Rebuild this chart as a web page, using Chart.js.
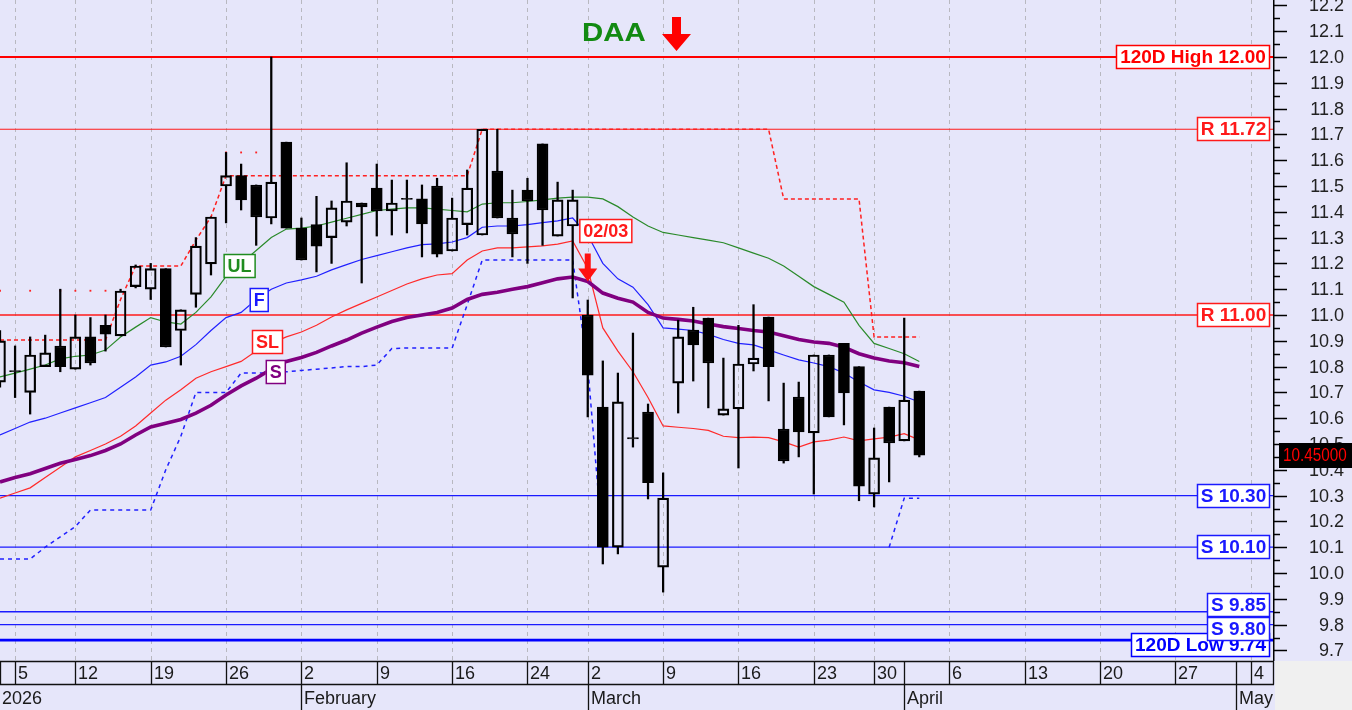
<!DOCTYPE html>
<html>
<head>
<meta charset="utf-8">
<script src="https://cdn.jsdelivr.net/npm/chart.js@4.4.1/dist/chart.umd.min.js"></script>
<style>
html,body{margin:0;padding:0;background:#e6e6fa;overflow:hidden;}
canvas{display:block;}
</style>
</head>
<body>
<canvas id="c" width="1352" height="710"></canvas>
<script>
// ---------------- DATA ----------------
const dayIdx = [-1,0,1,2,3,4,5,6,7,8,9,10,11,12,13,14,15,16,17,18,19,20,21,22,23,24,25,26,27,28,29,30,31,32,33,34,35,36,37,38,39,40,41,42,43,44,45,46,47,48,49,50,51,52,53,54,55,56,57,58,59,60];

const opens  = [10.74,10.785,10.70,10.80,10.88,10.79,10.915,10.96,10.919,11.11,11.10,11.18,10.94,11.08,11.198,11.50,11.54,11.504,11.376,11.67,11.337,11.35,11.30,11.36,11.434,11.492,11.403,11.452,11.45,11.50,11.248,11.35,11.31,11.558,11.376,11.484,11.663,11.306,11.345,11.00,10.643,10.10,10.525,10.624,10.023,10.736,10.942,10.988,10.612,10.636,10.81,10.992,10.558,10.682,10.543,10.845,10.89,10.80,10.306,10.643,10.512,10.705];
const highs  = [10.94,10.88,10.915,10.922,11.10,11.00,10.99,11.00,11.10,11.194,11.20,11.18,11.02,11.30,11.38,11.63,11.585,11.504,12.00,11.67,11.376,11.46,11.442,11.59,11.434,11.585,11.523,11.523,11.504,11.53,11.453,11.562,11.72,11.72,11.484,11.53,11.663,11.515,11.484,11.058,10.822,10.775,10.93,10.655,10.388,10.98,11.03,10.988,10.833,10.96,11.04,10.992,10.736,10.74,10.845,10.845,10.89,10.80,10.562,10.643,10.988,10.705];
const lows   = [10.72,10.68,10.616,10.80,10.78,10.79,10.806,10.86,10.919,11.105,11.06,10.876,10.806,11.03,11.155,11.357,11.407,11.27,11.353,11.337,11.213,11.167,11.20,11.345,11.124,11.306,11.31,11.318,11.225,11.225,11.248,11.31,11.31,11.376,11.225,11.20,11.27,11.306,11.066,10.605,10.035,10.074,10.488,10.287,9.926,10.62,10.744,10.64,10.612,10.407,10.783,10.667,10.426,10.45,10.306,10.605,10.574,10.28,10.256,10.353,10.512,10.45];
const closes = [10.90,10.78,10.845,10.853,10.80,10.915,10.814,10.926,11.093,11.19,11.18,10.876,11.02,11.267,11.38,11.54,11.446,11.38,11.515,11.337,11.213,11.267,11.415,11.442,11.419,11.403,11.434,11.448,11.353,11.236,11.376,11.492,11.72,11.376,11.314,11.442,11.407,11.446,11.446,10.767,10.10,10.663,10.52,10.35,10.29,10.915,10.884,10.814,10.636,10.81,10.833,10.80,10.434,10.547,10.845,10.605,10.698,10.337,10.446,10.504,10.67,10.457];

const ulLine = [10.76,10.775,10.79,10.806,10.83,10.84,10.845,10.864,10.915,10.953,10.99,10.973,10.965,11.01,11.07,11.15,11.20,11.25,11.30,11.333,11.337,11.345,11.36,11.375,11.39,11.405,11.41,11.415,11.415,11.41,11.405,11.40,11.43,11.435,11.435,11.44,11.446,11.453,11.457,11.457,11.45,11.42,11.38,11.345,11.32,11.31,11.30,11.29,11.28,11.26,11.24,11.22,11.19,11.15,11.11,11.08,11.05,10.96,10.89,10.87,10.85,10.82];
const fLine  = [10.535,10.56,10.585,10.60,10.62,10.64,10.66,10.68,10.72,10.76,10.806,10.818,10.84,10.885,10.94,10.99,11.01,11.06,11.10,11.124,11.136,11.15,11.175,11.195,11.215,11.23,11.245,11.26,11.273,11.276,11.283,11.30,11.34,11.345,11.345,11.35,11.358,11.365,11.376,11.31,11.20,11.14,11.108,11.04,10.95,10.945,10.94,10.925,10.905,10.89,10.884,10.865,10.845,10.826,10.814,10.80,10.775,10.74,10.71,10.70,10.685,10.663];
const slLine = [10.29,10.31,10.33,10.37,10.41,10.45,10.475,10.50,10.53,10.57,10.62,10.67,10.71,10.755,10.78,10.80,10.82,10.86,10.89,10.915,10.934,10.96,10.992,11.02,11.045,11.07,11.095,11.12,11.14,11.155,11.16,11.213,11.248,11.26,11.26,11.264,11.268,11.275,11.287,11.18,10.95,10.86,10.78,10.68,10.57,10.565,10.56,10.553,10.53,10.525,10.527,10.525,10.508,10.488,10.508,10.515,10.527,10.512,10.52,10.527,10.54,10.516];
const sLine  = [10.353,10.37,10.385,10.405,10.425,10.44,10.455,10.475,10.50,10.535,10.566,10.58,10.595,10.62,10.65,10.69,10.725,10.755,10.79,10.82,10.835,10.855,10.88,10.903,10.93,10.953,10.975,10.99,11.0,11.01,11.027,11.06,11.08,11.088,11.10,11.11,11.125,11.14,11.147,11.13,11.085,11.065,11.05,11.01,10.988,10.983,10.977,10.965,10.955,10.948,10.94,10.934,10.92,10.905,10.895,10.89,10.875,10.85,10.833,10.822,10.815,10.80];
const upperStop = [10.903,10.903,10.903,10.903,10.903,10.903,10.903,10.903,11.06,11.19,11.19,11.19,11.19,11.29,11.38,11.54,11.54,11.54,11.54,11.54,11.54,11.54,11.54,11.54,11.54,11.54,11.54,11.54,11.54,11.54,11.54,11.54,11.72,11.72,11.72,11.72,11.72,11.72,11.72,11.72,11.72,11.72,11.72,11.72,11.72,11.72,11.72,11.72,11.72,11.72,11.72,11.72,11.45,11.45,11.45,11.45,11.45,11.45,10.915,10.915,10.915,10.915];
const lowerStop = [10.054,10.054,10.054,10.10,10.14,10.18,10.244,10.244,10.244,10.244,10.244,10.40,10.53,10.70,10.70,10.70,10.775,10.775,10.775,10.78,10.785,10.79,10.795,10.80,10.80,10.806,10.87,10.872,10.872,10.872,10.872,11.04,11.213,11.213,11.213,11.213,11.213,11.213,11.213,10.80,10.10,null,null,null,null,null,null,null,null,null,null,null,null,null,null,null,null,null,null,10.10,10.29,10.29];
const dotIdx = [-1,1,3,4,5,6,14,15,16];
const dotVal = [11.094,11.094,11.094,11.094,11.094,11.094,11.63,11.63,11.63];

const levelValues = [12.00,11.72,11.00,10.30,10.10,9.85,9.80,9.74];
const levelLabels = ['120D High 12.00','R 11.72','R 11.00','S 10.30','S 10.10','S 9.85','S 9.80','120D Low 9.74'];

const weekTickIdx = [0,4,9,14,19,24,29,34,38,43,48,53,57,62,67,72,77,82];
const weekTickLabels = ['5','12','19','26','2','9','16','24','2','9','16','23','30','6','13','20','27','4'];
const monthIdx = [19,38,59,81];
const monthLabels = ['February','March','April','May'];
const yearLabel = '2026';
const yTickLabels = ['9.7','9.8','9.9','10.0','10.1','10.2','10.3','10.4','10.5','10.6','10.7','10.8','10.9','11.0','11.1','11.2','11.3','11.4','11.5','11.6','11.7','11.8','11.9','12.0','12.1','12.2'];
const lastPriceLabel = '10.45000';
const titleText = 'DAA';

// -------------- STYLE --------------
const LAV = '#e6e6fa';
const FONT = '"Liberation Sans", Arial, sans-serif';
const RED = '#ff1a1a', BLUE = '#1a1aff', GREEN = '#1f8c1f', PURPLE = '#800080';
const levelStyle = [
  {c:'#ff0000', w:2.2, dy:0},
  {c:RED, w:1.2, dy:0},
  {c:RED, w:1.4, dy:0},
  {c:BLUE, w:1.2, dy:0},
  {c:BLUE, w:1.2, dy:0},
  {c:BLUE, w:1.5, dy:-7},
  {c:BLUE, w:1.2, dy:4},
  {c:'#0000ff', w:2.6, dy:5}
];
const labelDrawOrder = [7,0,1,2,3,4,5,6];
const lineLabelCfg = [
  {t:'UL', i:14.9, v:11.19, c:GREEN},
  {t:'F', i:16.2, v:11.06, c:BLUE},
  {t:'SL', i:16.75, v:10.897, c:RED},
  {t:'S', i:17.3, v:10.78, c:PURPLE},
  {t:'02/03', i:39.2, v:11.324, c:RED}
];

// -------------- DATASETS --------------
const pts = arr => dayIdx.map((x,i)=>({x, y:arr[i]}));
const bodies = dayIdx.map((x,i)=>({x, y:[opens[i], closes[i]]}));
const upWick = dayIdx.map((x,i)=>({x, y:[Math.max(opens[i],closes[i]), highs[i]]}));
const dnWick = dayIdx.map((x,i)=>({x, y:[lows[i], Math.min(opens[i],closes[i])]}));
const X_MIN = -1, X_MAX = 83.47;

const datasets = [
  {type:'bar', data:bodies, order:0, grouped:false, barThickness:11, borderSkipped:false, borderWidth:1.5, borderColor:'#000',
   backgroundColor: dayIdx.map((x,i)=> closes[i] < opens[i] ? '#000' : 'rgba(0,0,0,0)')},
  {type:'bar', data:upWick, order:1, grouped:false, barThickness:1.6, borderWidth:0, backgroundColor:'#000'},
  {type:'bar', data:dnWick, order:1, grouped:false, barThickness:1.6, borderWidth:0, backgroundColor:'#000'},
  {type:'line', data:pts(sLine), order:2, borderColor:PURPLE, borderWidth:3.6, pointRadius:0, tension:0},
  {type:'line', data:pts(ulLine), order:3, borderColor:'#2a8a2a', borderWidth:1.2, pointRadius:0, tension:0},
  {type:'line', data:pts(fLine), order:3, borderColor:'#2020ff', borderWidth:1.2, pointRadius:0, tension:0},
  {type:'line', data:pts(slLine), order:3, borderColor:'#ff2a2a', borderWidth:1.2, pointRadius:0, tension:0},
  {type:'line', data:pts(upperStop), order:4, borderColor:'#ff2020', borderWidth:1.5, borderDash:[4,3], pointRadius:0, tension:0},
  {type:'line', data:pts(lowerStop), order:4, borderColor:'#2020ff', borderWidth:1.5, borderDash:[4,4], pointRadius:0, tension:0, spanGaps:false},
  {type:'line', data:dotIdx.map((x,i)=>({x, y:dotVal[i]})), order:4, showLine:false, pointStyle:'rect', pointRadius:1.3, pointBorderWidth:0, pointBackgroundColor:'#ff2020'}
];
levelValues.forEach((v,k)=>{
  datasets.push({type:'line', data:[{x:X_MIN,y:v},{x:X_MAX,y:v}], order:5, borderColor:levelStyle[k].c, borderWidth:levelStyle[k].w, pointRadius:0});
});

// -------------- DRAW HELPERS --------------
function boxLabel(ctx, text, cx, cy, color, font, rightAligned) {
  ctx.font = font;
  const w = Math.round(ctx.measureText(text).width + 8), h = 24;
  const left = rightAligned ? cx - w : cx - w/2;
  const top = Math.round(cy - h/2);
  ctx.fillStyle = '#ffffff';
  ctx.fillRect(left, top, w, h);
  ctx.strokeStyle = color; ctx.lineWidth = 1.5; ctx.setLineDash([]);
  ctx.strokeRect(left+0.5, top+0.5, w-1, h-1);
  ctx.fillStyle = color; ctx.textAlign = 'center'; ctx.textBaseline = 'middle';
  ctx.fillText(text, left + w/2, top + h/2 + 1);
}
function downArrow(ctx, cx, top, shaftW, shaftBottom, headW, tip, color) {
  ctx.beginPath();
  ctx.moveTo(cx - shaftW/2, top); ctx.lineTo(cx + shaftW/2, top);
  ctx.lineTo(cx + shaftW/2, shaftBottom); ctx.lineTo(cx + headW/2, shaftBottom);
  ctx.lineTo(cx, tip); ctx.lineTo(cx - headW/2, shaftBottom);
  ctx.lineTo(cx - shaftW/2, shaftBottom); ctx.closePath();
  ctx.fillStyle = color; ctx.fill();
}

const decor = {
  id:'decor',
  beforeDraw(chart) {
    const {ctx, width, height, chartArea:a} = chart;
    ctx.save();
    ctx.fillStyle = LAV; ctx.fillRect(0,0,width,height);
    ctx.fillStyle = '#f0f0f0'; ctx.fillRect(a.right+2, a.bottom+1, width, height);
    ctx.restore();
  },
  beforeDatasetsDraw(chart) {
    const {ctx, chartArea:a} = chart; const xs = chart.scales.x;
    ctx.save();
    ctx.strokeStyle = '#b8b8c0'; ctx.lineWidth = 1; ctx.setLineDash([4,4]);
    weekTickIdx.forEach(i=>{
      const px = Math.round(xs.getPixelForValue(i)) + 0.5;
      ctx.beginPath(); ctx.moveTo(px, a.top); ctx.lineTo(px, a.bottom); ctx.stroke();
    });
    ctx.restore();
  },
  afterDatasetsDraw(chart) {
    const {ctx, chartArea:a, width, height} = chart; const xs = chart.scales.x, ys = chart.scales.y;
    ctx.save();
    // level labels
    labelDrawOrder.forEach(k=>{
      boxLabel(ctx, levelLabels[k], 1270, ys.getPixelForValue(levelValues[k]) + levelStyle[k].dy, levelStyle[k].c, 'bold 19px '+FONT, true);
    });
    // line labels
    lineLabelCfg.forEach(l=>{
      boxLabel(ctx, l.t, xs.getPixelForValue(l.i), ys.getPixelForValue(l.v), l.c, 'bold 18px '+FONT, false);
    });
    // title + arrows
    ctx.save();
    ctx.translate(582, 41); ctx.scale(1.13, 1);
    ctx.font = 'bold 26px '+FONT; ctx.fillStyle = '#128a12'; ctx.textAlign='left'; ctx.textBaseline='alphabetic';
    ctx.fillText(titleText, 0, 0);
    ctx.restore();
    downArrow(ctx, 676.5, 17, 9, 34, 29, 51, '#ff0000');
    const ax = xs.getPixelForValue(38), ay = ys.getPixelForValue(sLine[39]);
    downArrow(ctx, ax, ay - 28, 6, ay - 13, 19, ay, '#ff1010');

    // right axis
    ctx.setLineDash([]);
    ctx.strokeStyle = '#000'; ctx.lineWidth = 1.5;
    ctx.beginPath(); ctx.moveTo(a.right + 0.75, 0); ctx.lineTo(a.right + 0.75, a.bottom + 1); ctx.stroke();
    ctx.lineWidth = 1.5;
    ctx.font = '18px '+FONT; ctx.fillStyle = '#222'; ctx.textAlign = 'right'; ctx.textBaseline = 'middle';
    yTickLabels.forEach(t=>{
      const v = parseFloat(t);
      const py = Math.round(ys.getPixelForValue(v)) + 0.5;
      ctx.beginPath(); ctx.moveTo(a.right, py); ctx.lineTo(a.right + 14, py); ctx.stroke();
      const pm = Math.round(ys.getPixelForValue(v + 0.05)) + 0.5;
      if (pm > 0) { ctx.beginPath(); ctx.moveTo(a.right, pm); ctx.lineTo(a.right + 7, pm); ctx.stroke(); }
      ctx.fillText(t, 1344, py + 1);
    });
    // last price tag
    const lp = ys.getPixelForValue(closes[closes.length-1]);
    ctx.fillStyle = '#000'; ctx.fillRect(1279, Math.round(lp - 12.5), 73, 25);
    ctx.save();
    ctx.translate(1283, lp + 1); ctx.scale(0.85, 1);
    ctx.font = '18px '+FONT; ctx.fillStyle = '#ff0000'; ctx.textAlign='left'; ctx.textBaseline='middle';
    ctx.fillText(lastPriceLabel, 0, 0);
    ctx.restore();

    // bottom axis
    const r1 = a.bottom + 1.5, r2 = a.bottom + 24.5;
    ctx.fillStyle = LAV; ctx.fillRect(0, a.bottom + 1, a.right + 2, height - a.bottom);
    ctx.strokeStyle = '#111'; ctx.lineWidth = 1.3;
    ctx.beginPath(); ctx.moveTo(0, r1); ctx.lineTo(a.right + 1, r1); ctx.moveTo(0, r2); ctx.lineTo(a.right + 1, r2); ctx.stroke();
    const vlines = [0.5, a.right + 0.5].concat(weekTickIdx.map(i=>Math.round(xs.getPixelForValue(i))+0.5)).concat(monthIdx.map(i=>Math.round(xs.getPixelForValue(i))+0.5));
    ctx.beginPath();
    vlines.forEach(px=>{ ctx.moveTo(px, r1); ctx.lineTo(px, r2); });
    monthIdx.forEach(i=>{ const px = Math.round(xs.getPixelForValue(i))+0.5; ctx.moveTo(px, r2); ctx.lineTo(px, height); });
    ctx.stroke();
    ctx.font = '18px '+FONT; ctx.fillStyle = '#1a1a1a'; ctx.textAlign = 'left'; ctx.textBaseline = 'alphabetic';
    weekTickIdx.forEach((i,k)=>{ ctx.fillText(weekTickLabels[k], Math.round(xs.getPixelForValue(i)) + 3, a.bottom + 19); });
    ctx.fillText(yearLabel, 2, height - 6);
    monthIdx.forEach((i,k)=>{ ctx.fillText(monthLabels[k], Math.round(xs.getPixelForValue(i)) + 3, height - 6); });
    ctx.restore();
  }
};

new Chart(document.getElementById('c'), {
  type:'line',
  data:{datasets},
  options:{
    responsive:false, animation:false, devicePixelRatio:1, events:[],
    layout:{autoPadding:false, padding:{left:0, top:0, right:79, bottom:50}},
    plugins:{legend:{display:false}, tooltip:{enabled:false}},
    scales:{
      x:{type:'linear', min:X_MIN, max:X_MAX, display:false, offset:false},
      y:{type:'linear', min:9.6628, max:12.2209, display:false}
    }
  },
  plugins:[decor]
});
</script>
</body>
</html>
